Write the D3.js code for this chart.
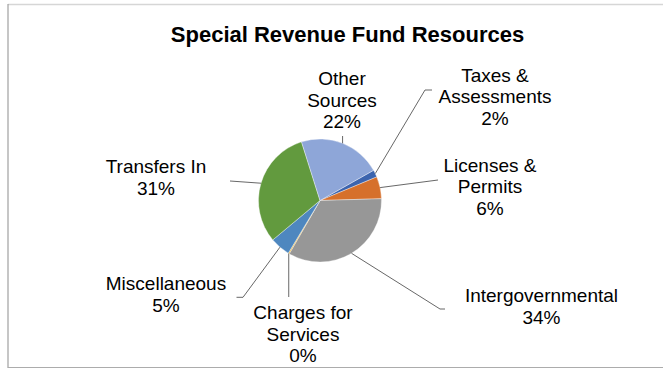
<!DOCTYPE html>
<html>
<head>
<meta charset="utf-8">
<script src="https://cdn.jsdelivr.net/npm/d3@7"></script>
<style>
  html, body { margin: 0; padding: 0; background: #fff; }
  svg { display: block; }
</style>
</head>
<body>
<svg id="chart" width="663" height="369"></svg>
<script>
// Resource categories, in slice order (clockwise)
const categories = ["Taxes & Assessments", "Licenses & Permits", "Intergovernmental",
  "Charges for Services", "Miscellaneous", "Transfers In", "Other Sources"];
// Share of total resources, percent
const shares = [1.9, 5.8, 33.8, 0.3, 5.3, 31.2, 21.7];
// Category names as wrapped on the data labels
const labelLines = [["Taxes &", "Assessments"], ["Licenses &", "Permits"], ["Intergovernmental"],
  ["Charges for", "Services"], ["Miscellaneous"], ["Transfers In"], ["Other", "Sources"]];
const chartTitle = "Special Revenue Fund Resources";

// Styling and layout
const sliceColors = ["#3c64ae", "#d6702b", "#979797", "#ebb12f", "#4e87bf", "#629a3e", "#8ea6d8"];
const center = { x: 320, y: 200.5 };
const radius = 61.5;
const startDeg = 60.6;
const lineGap = 21.7;
// label block: centre x, first baseline y, leader path points after the slice edge
const labelLayout = [
  { x: 495,   y: 81.5,  leader: [[425, 90], [432, 90]] },
  { x: 490,   y: 171.5, leader: [[438, 180]] },
  { x: 541.5, y: 302.3, leader: [[440, 309], [445, 309]] },
  { x: 303,   y: 319,   leader: [["edge", 297]] },
  { x: 166,   y: 290,   leader: [[243, 297.3], [236.5, 297.3]] },
  { x: 156,   y: 173.3, leader: [[230, 181]] },
  { x: 342,   y: 85,    leader: [["edge", 136]] }
];

const svg = d3.select("#chart");
const font = "'Liberation Sans', Arial, sans-serif";

// chart frame
svg.append("line").attr("x1", 8).attr("x2", 663).attr("y1", 4.5).attr("y2", 4.5)
  .attr("stroke", "#d6d6d6").attr("stroke-width", 1.5);
svg.append("line").attr("x1", 8).attr("x2", 8).attr("y1", 4).attr("y2", 368)
  .attr("stroke", "#a0a0a0").attr("stroke-width", 1.2);
svg.append("line").attr("x1", 8).attr("x2", 663).attr("y1", 367.5).attr("y2", 367.5)
  .attr("stroke", "#acacac").attr("stroke-width", 1.2);

// title
svg.append("text")
  .attr("x", 347.5).attr("y", 41.8)
  .attr("text-anchor", "middle")
  .style("font-family", font).style("font-size", "22px").style("font-weight", "bold")
  .attr("fill", "#000")
  .text(chartTitle);

const data = categories.map((c, i) => ({ name: c, value: shares[i], i }));
const total = d3.sum(shares);
const pct = d3.format(".0%");

const start = startDeg * Math.PI / 180;
const pie = d3.pie().value(d => d.value).sort(null)
  .startAngle(start).endAngle(start + 2 * Math.PI);
const arcs = pie(data);
const arc = d3.arc().innerRadius(0).outerRadius(radius);

const g = svg.append("g").attr("transform", `translate(${center.x},${center.y})`);
g.selectAll("path.slice").data(arcs).join("path")
  .attr("class", "slice")
  .attr("d", arc)
  .attr("fill", d => sliceColors[d.data.i])
  .attr("stroke", "#ffffff").attr("stroke-opacity", 0.6).attr("stroke-width", 0.6);

// leader lines from slice edge to label
const line = d3.line();
arcs.forEach(a => {
  const mid = (a.startAngle + a.endAngle) / 2;
  const ex = center.x + radius * Math.sin(mid);
  const ey = center.y - radius * Math.cos(mid);
  const pts = [[ex, ey]].concat(labelLayout[a.data.i].leader.map(p => [p[0] === "edge" ? ex : p[0], p[1]]));
  svg.append("path").attr("d", line(pts))
    .attr("fill", "none").attr("stroke", "#404040").attr("stroke-width", 0.8);
});

// data labels: category name and percentage
arcs.forEach(a => {
  const L = labelLayout[a.data.i];
  const lines = labelLines[a.data.i].concat([pct(a.data.value / total)]);
  const t = svg.append("text")
    .attr("text-anchor", "middle")
    .style("font-family", font).style("font-size", "19px")
    .attr("fill", "#000");
  lines.forEach((s, k) => {
    t.append("tspan").attr("x", L.x).attr("y", L.y + k * lineGap).text(s);
  });
});
</script>
</body>
</html>
